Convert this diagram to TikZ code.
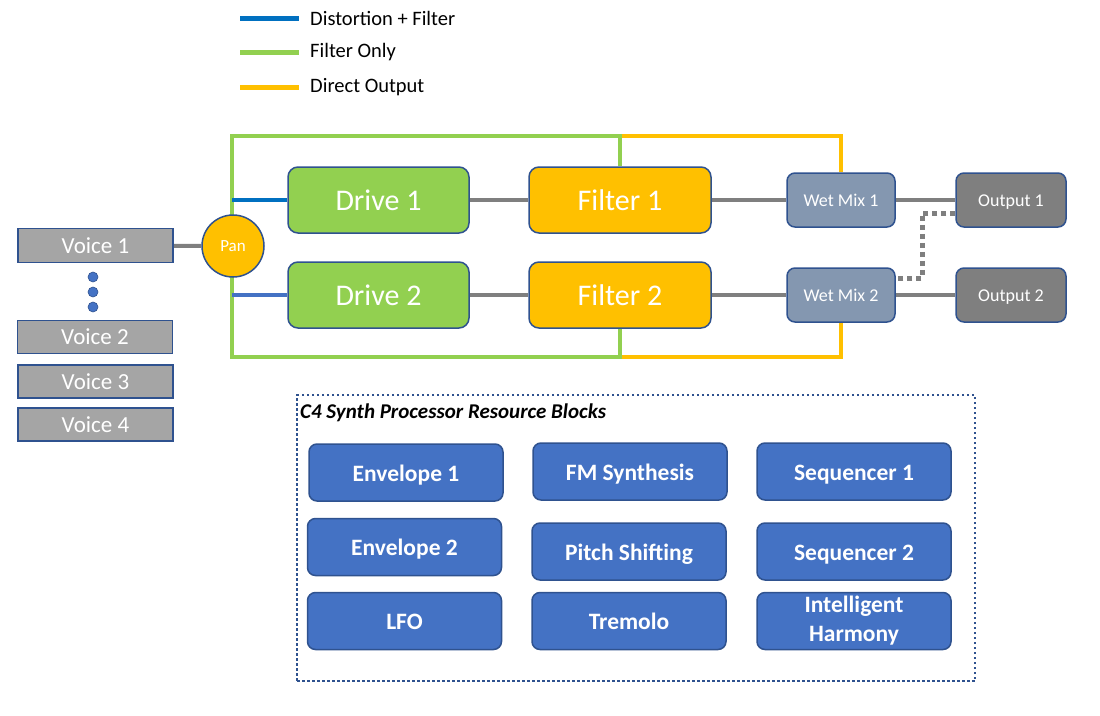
\documentclass[tikz,border=0pt]{standalone}
\usepackage{fontspec}
\setmainfont{Carlito}
\definecolor{bdr}{HTML}{2F528F}
\definecolor{vgray}{HTML}{A5A5A5}
\definecolor{lgray}{HTML}{7F7F7F}
\definecolor{pgreen}{HTML}{92D050}
\definecolor{porange}{HTML}{FFC000}
\definecolor{pblue}{HTML}{0070C0}
\definecolor{mblue}{HTML}{4472C4}
\definecolor{wetc}{HTML}{8497B0}
\newcommand\fsz[2]{\fontsize{#1}{#2}\selectfont}
\pgfdeclarelayer{bg}
\pgfsetlayers{bg,main}
\begin{document}
\begin{tikzpicture}[x=1pt,y=-1pt,
  box/.style={draw=bdr, line width=1.5pt, inner sep=0pt, text=white},
  voice/.style={box, fill=vgray, minimum width=155pt, minimum height=34pt, font=\fsz{23}{27}},
  drivebox/.style={box, fill=pgreen, rounded corners=10pt, minimum width=181pt, minimum height=66pt, font=\fsz{30}{36}},
  filterbox/.style={box, fill=porange, rounded corners=10pt, minimum width=182pt, minimum height=66pt, font=\fsz{30}{36}},
  wetbox/.style={box, fill=wetc, rounded corners=8pt, minimum width=108pt, minimum height=54pt, font=\fsz{18}{22}},
  outbox/.style={box, fill=lgray, rounded corners=8pt, minimum width=110pt, minimum height=54pt, font=\fsz{18}{22}, text height=15pt, text depth=3pt},
  resbox/.style={box, fill=mblue, rounded corners=8pt, minimum width=194pt, minimum height=57pt, align=center, font=\fsz{23.5}{29}\bfseries, text height=20pt, text depth=3pt},
  dotc/.style={circle, fill=mblue, draw=bdr, line width=0.6pt, minimum size=10pt, inner sep=0pt},
  panc/.style={circle, box, fill=porange, minimum size=62pt, font=\fsz{17}{20}},
  wire/.style={draw=lgray, line width=4pt},
  frame/.style={line width=4pt},
  legline/.style={line width=5pt},
  legtext/.style={anchor=west, inner sep=0pt, font=\fsz{20.5}{24}}
]
\useasboundingbox (0,0) rectangle (1100,715);

% legend
\coordinate (l1a) at (240,18); \coordinate (l1b) at (299,18);
\coordinate (l2a) at (240,52); \coordinate (l2b) at (299,52);
\coordinate (l3a) at (240,87); \coordinate (l3b) at (299,87);
\draw[legline, pblue] (l1a) -- (l1b);
\draw[legline, pgreen] (l2a) -- (l2b);
\draw[legline, porange] (l3a) -- (l3b);
\node[legtext] (t1) at (310,18) {Distortion + Filter};
\node[legtext] (t2) at (310,52) {Filter Only};
\node[legtext] (t3) at (310,87) {Direct Output};

% nodes
\node[voice] (v1) at (95.5,245.5) {Voice 1};
\node[voice, minimum height=33pt] (v2) at (95,337) {Voice 2};
\node[voice, minimum height=33pt] (v3) at (95.5,381.5) {Voice 3};
\node[voice, minimum height=33pt] (v4) at (95.5,424.5) {Voice 4};
\node[dotc] (d1) at (93,277) {};
\node[dotc] (d2) at (93,292) {};
\node[dotc] (d3) at (93,307) {};

\node[panc] (pan) at (233,246) {Pan};

\node[drivebox] (dr1) at (378.5,200) {Drive 1};
\node[drivebox] (dr2) at (378.5,295) {Drive 2};
\node[filterbox] (f1) at (620,200) {Filter 1};
\node[filterbox] (f2) at (620,295) {Filter 2};
\node[wetbox] (w1) at (841,200) {Wet Mix 1};
\node[wetbox] (w2) at (841,295) {Wet Mix 2};
\node[outbox] (o1) at (1011,200) {Output 1};
\node[outbox] (o2) at (1011,295) {Output 2};

% resource blocks
\node[draw=bdr, line width=2.5pt, dash pattern=on 2.5pt off 2.5pt, minimum width=678pt, minimum height=286pt, inner sep=0pt] (res) at (636,538) {};
\node[anchor=west, inner sep=0pt, font=\fsz{21}{25}\bfseries\itshape] (rt) at (300,413) {C4 Synth Processor Resource Blocks};
\node[resbox] (e1) at (406,472.5) {Envelope 1};
\node[resbox] (fm) at (630,471.5) {FM Synthesis};
\node[resbox] (s1) at (854,471.5) {Sequencer 1};
\node[resbox] (e2) at (404.5,547) {Envelope 2};
\node[resbox] (ps) at (629,551.5) {Pitch Shifting};
\node[resbox] (s2) at (854,551.5) {Sequencer 2};
\node[resbox] (lfo) at (404.5,621) {LFO};
\node[resbox] (tr) at (629,621) {Tremolo};
\node[resbox, text height=, text depth=] (ih) at (854,621) {Intelligent\\Harmony};

% coordinates for paths
\coordinate (gA) at (232,136);
\coordinate (gC) at (232,357);
\coordinate (oT) at (620,136);
\coordinate (oTR) at (841,136);
\coordinate (oB) at (620,357);
\coordinate (oBR) at (841,357);
\coordinate (b1) at (232,200);
\coordinate (b2) at (232,295);
\coordinate (dA) at (922,213);
\coordinate (dB) at (922,278);

\begin{pgfonlayer}{bg}
  \draw[frame, porange] (oT) -- (oTR) -- (w1.north);
  \draw[frame, porange] (oB) -- (oBR) -- (w2.south);
  \draw[frame, pgreen] (f1.north) -- (oT) -- (gA) -- (gC) -- (oB) -- (f2.south);
  \draw[wire] (v1) -- (pan);
  \draw[line width=4pt, pblue] (b1) -- (dr1.west);
  \draw[line width=4pt, mblue] (b2) -- (dr2.west);
  \draw[wire] (dr1) -- (f1);
  \draw[wire] (dr2) -- (f2);
  \draw[wire] (f1) -- (w1);
  \draw[wire] (f2) -- (w2);
  \draw[wire] (w1) -- (o1);
  \draw[wire] (w2) -- (o2);
  \draw[draw=lgray, line width=5pt, dash pattern=on 5pt off 4pt] (o1.west |- dA) -- (dA) -- (dB) -- (w2.east |- dB);
\end{pgfonlayer}
\end{tikzpicture}
\end{document}
